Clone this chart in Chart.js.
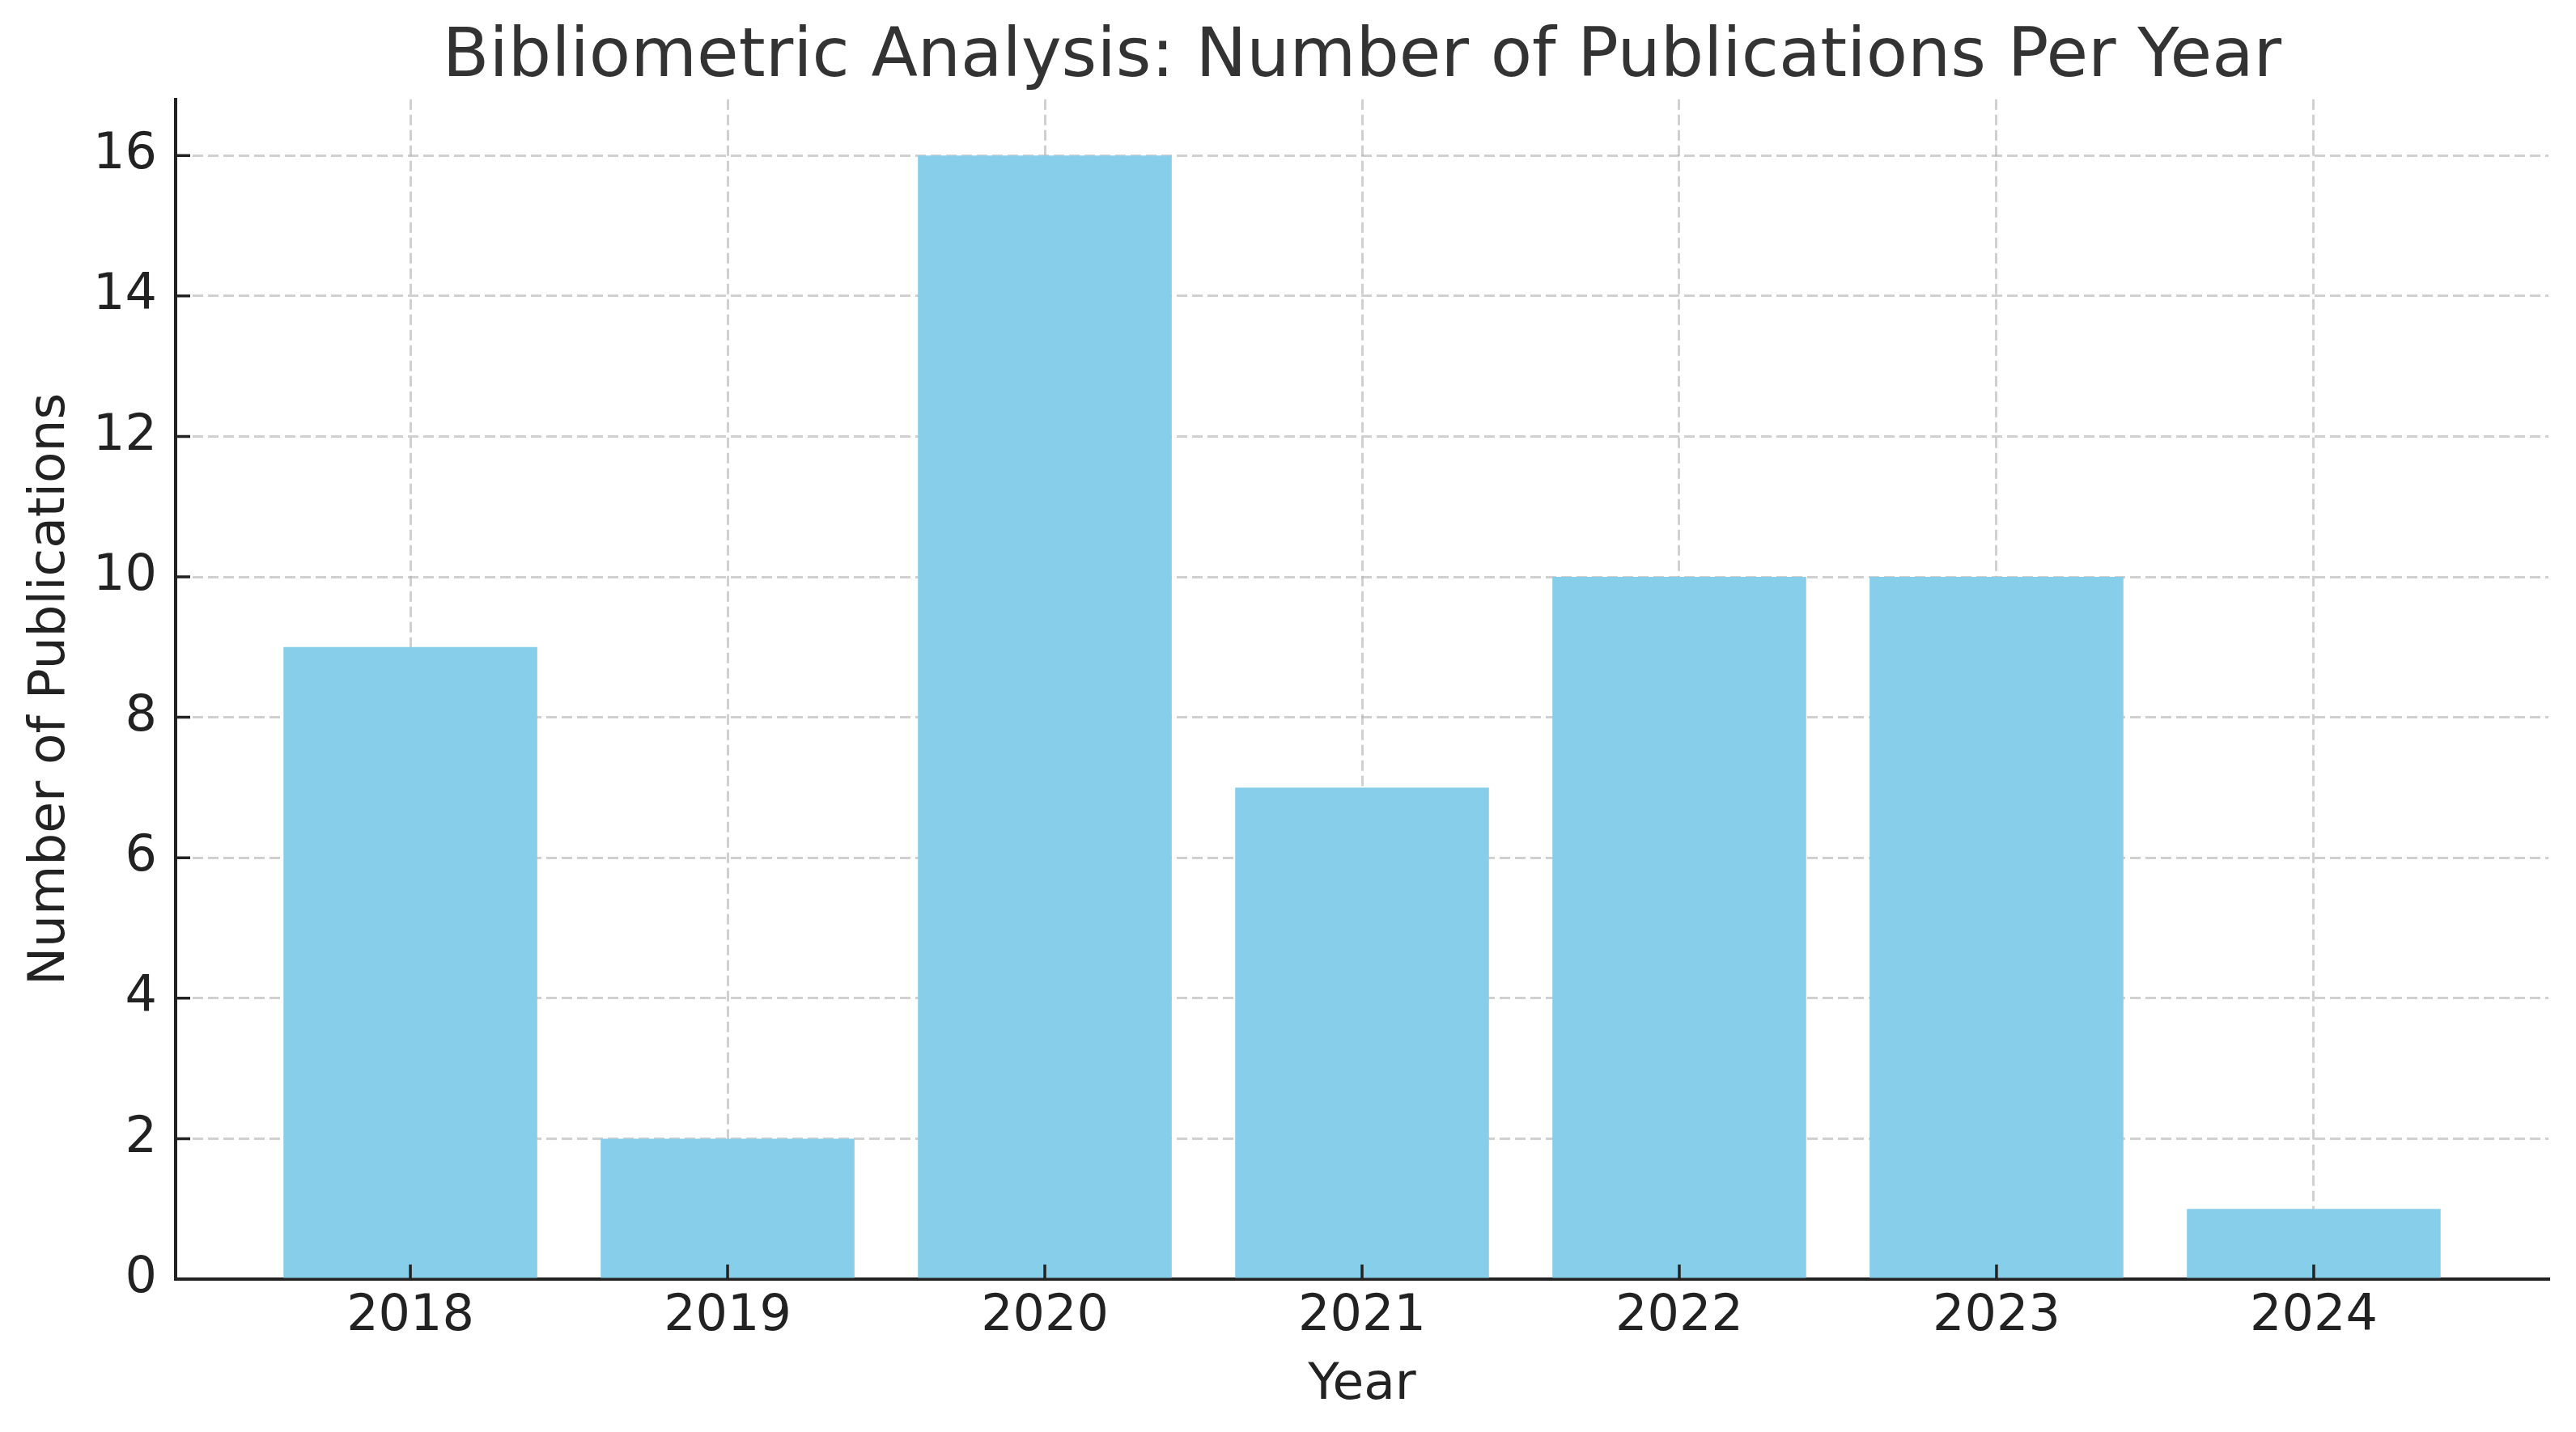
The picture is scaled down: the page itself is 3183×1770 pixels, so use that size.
<!DOCTYPE html>
<html>
<head>
<meta charset="utf-8">
<title>Bibliometric Analysis</title>
<script src="https://cdn.jsdelivr.net/npm/chart.js@4.4.1/dist/chart.umd.min.js"></script>
<style>
  html, body { margin: 0; padding: 0; background: #fff; }
  #wrap { width: 3183px; height: 1770px; }
</style>
</head>
<body>
<div id="wrap"><canvas id="pubChart" width="3183" height="1770"></canvas></div>
<script>
// data
const years = ['2018', '2019', '2020', '2021', '2022', '2023', '2024'];
const publications = [9, 2, 16, 7, 10, 10, 1];
const yTicks = [0, 2, 4, 6, 8, 10, 12, 14, 16];

const chartTitle = 'Bibliometric Analysis: Number of Publications Per Year';
const xTitle = 'Year';
const yTitle = 'Number of Publications';

const FONT = "'DejaVu Sans', sans-serif";
const gridColor = 'rgba(176,176,176,0.6)';

// matplotlib style ticks pointing inward
const innerTicks = {
  id: 'innerTicks',
  afterDraw(chart) {
    const { ctx, chartArea, scales } = chart;
    ctx.save();
    ctx.strokeStyle = '#222';
    ctx.lineWidth = 3.5;
    ctx.beginPath();
    scales.x.ticks.forEach(t => {
      const px = scales.x.getPixelForValue(t.value);
      ctx.moveTo(px, chartArea.bottom);
      ctx.lineTo(px, chartArea.bottom - 18);
    });
    scales.y.ticks.forEach(t => {
      const py = scales.y.getPixelForValue(t.value);
      ctx.moveTo(chartArea.left, py);
      ctx.lineTo(chartArea.left + 18, py);
    });
    ctx.stroke();
    ctx.restore();
  }
};

const ctx = document.getElementById('pubChart').getContext('2d');
new Chart(ctx, {
  type: 'bar',
  data: {
    datasets: [{
      label: yTitle,
      data: publications.map((v, i) => ({ x: i, y: v })),
      backgroundColor: '#87CEEB',
      borderWidth: 0,
      barPercentage: 0.8,
      categoryPercentage: 1.0
    }]
  },
  options: {
    responsive: false,
    animation: false,
    devicePixelRatio: 1,
    layout: { padding: { left: 0, right: 34, top: 0, bottom: 0 } },
    plugins: {
      legend: { display: false },
      tooltip: { enabled: false },
      title: {
        display: true,
        fullSize: false,
        text: chartTitle,
        color: '#333',
        font: { family: FONT, size: 84, weight: 'normal', lineHeight: 1.2 },
        padding: { top: 22, bottom: 0 }
      }
    },
    scales: {
      x: {
        type: 'linear',
        min: -0.74,
        max: 6.74,
        offset: false,
        z: 1,
        afterBuildTicks: axis => { axis.ticks = years.map((_, i) => ({ value: i })); },
        afterFit: axis => { axis.height = 189; },
        ticks: {
          callback: v => years[v],
          color: '#222',
          padding: 10,
          maxRotation: 0,
          autoSkip: false,
          font: { family: FONT, size: 62 }
        },
        grid: { color: gridColor, lineWidth: 3, drawTicks: false, offset: false },
        border: { display: true, color: '#222', width: 4, dash: [13, 6] },
        title: {
          display: true,
          text: xTitle,
          color: '#222',
          font: { family: FONT, size: 63, lineHeight: 1.2 },
          padding: { top: 0, bottom: 20 }
        }
      },
      y: {
        min: 0,
        max: 16.8,
        z: 1,
        afterBuildTicks: axis => { axis.ticks = yTicks.map(v => ({ value: v })); },
        afterFit: axis => { axis.width = 217; },
        ticks: {
          color: '#222',
          padding: 23,
          font: { family: FONT, size: 62 }
        },
        grid: { color: gridColor, lineWidth: 3, drawTicks: false },
        border: { display: true, color: '#222', width: 4, dash: [13, 6] },
        title: {
          display: true,
          text: yTitle,
          color: '#222',
          font: { family: FONT, size: 63, lineHeight: 1.2 },
          padding: { top: 25, bottom: 0 }
        }
      }
    }
  },
  plugins: [innerTicks]
});
</script>
</body>
</html>
